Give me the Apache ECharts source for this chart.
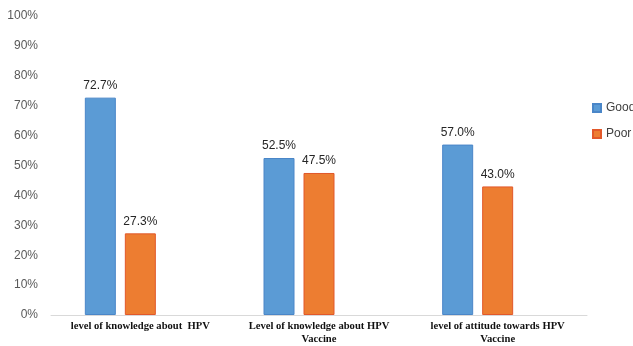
<!DOCTYPE html>
<html>
<head>
<meta charset="utf-8">
<script src="https://cdn.jsdelivr.net/npm/echarts@6/dist/echarts.min.js"></script>
<style>
  html, body { margin: 0; padding: 0; background: #fff; }
  #chart { width: 633px; height: 346px; }
</style>
</head>
<body>
<div id="chart"></div>
<script>
// Categories shown along the x axis
const categories = [
  'level of knowledge about  HPV',
  'Level of knowledge about HPV\nVaccine',
  'level of attitude towards HPV\nVaccine'
];
// Percentages per category
const goodValues = [72.7, 52.5, 57.0];
const poorValues = [27.3, 47.5, 43.0];
// Y axis ticks (percent)
const yTicks = [0, 10, 20, 30, 40, 50, 60, 70, 80, 90, 100];

const chart = echarts.init(document.getElementById('chart'));

const valueLabel = {
  show: true,
  position: 'top',
  distance: 6,
  fontFamily: 'Liberation Sans, Arial, sans-serif',
  fontSize: 12,
  color: '#262626',
  formatter: p => p.value.toFixed(1) + '%'
};

chart.setOption({
  animation: false,
  grid: { left: 51, right: 46, top: 16, bottom: 31, containLabel: false, outerBoundsMode: 'none' },
  legend: {
    orient: 'vertical',
    left: 592,
    top: 102,
    padding: 0,
    itemWidth: 8,
    itemHeight: 8,
    itemGap: 14,
    icon: 'rect',
    data: ['Good', 'Poor'],
    textStyle: { fontFamily: 'Liberation Sans, Arial, sans-serif', fontSize: 12, color: '#404040' }
  },
  xAxis: {
    type: 'category',
    data: categories,
    axisLine: { lineStyle: { color: '#d9d9d9', width: 1 } },
    axisTick: { show: false },
    axisLabel: {
      interval: 0,
      margin: 5,
      fontFamily: 'Liberation Serif, Times New Roman, serif',
      fontWeight: 'bold',
      fontSize: 10.6,
      lineHeight: 13,
      color: '#111'
    }
  },
  yAxis: {
    type: 'value',
    min: yTicks[0],
    max: yTicks[yTicks.length - 1],
    interval: yTicks[1] - yTicks[0],
    axisLine: { show: false },
    axisTick: { show: false },
    splitLine: { show: false },
    axisLabel: {
      margin: 13,
      fontFamily: 'Liberation Sans, Arial, sans-serif',
      fontSize: 12,
      color: '#595959',
      formatter: v => v + '%'
    }
  },
  series: [
    {
      name: 'Good',
      type: 'bar',
      data: goodValues,
      barWidth: 31,
      barGap: '29%',
      itemStyle: { color: '#5b9bd5', borderColor: '#4a86c8', borderWidth: 1 },
      label: valueLabel
    },
    {
      name: 'Poor',
      type: 'bar',
      data: poorValues,
      barWidth: 31,
      barGap: '29%',
      itemStyle: { color: '#ed7d31', borderColor: '#e2582a', borderWidth: 1 },
      label: valueLabel
    },
    {
      // empty third slot in each cluster
      name: 'slot',
      type: 'bar',
      data: ['-', '-', '-'],
      barWidth: 31,
      barGap: '29%'
    }
  ]
});
</script>
</body>
</html>
